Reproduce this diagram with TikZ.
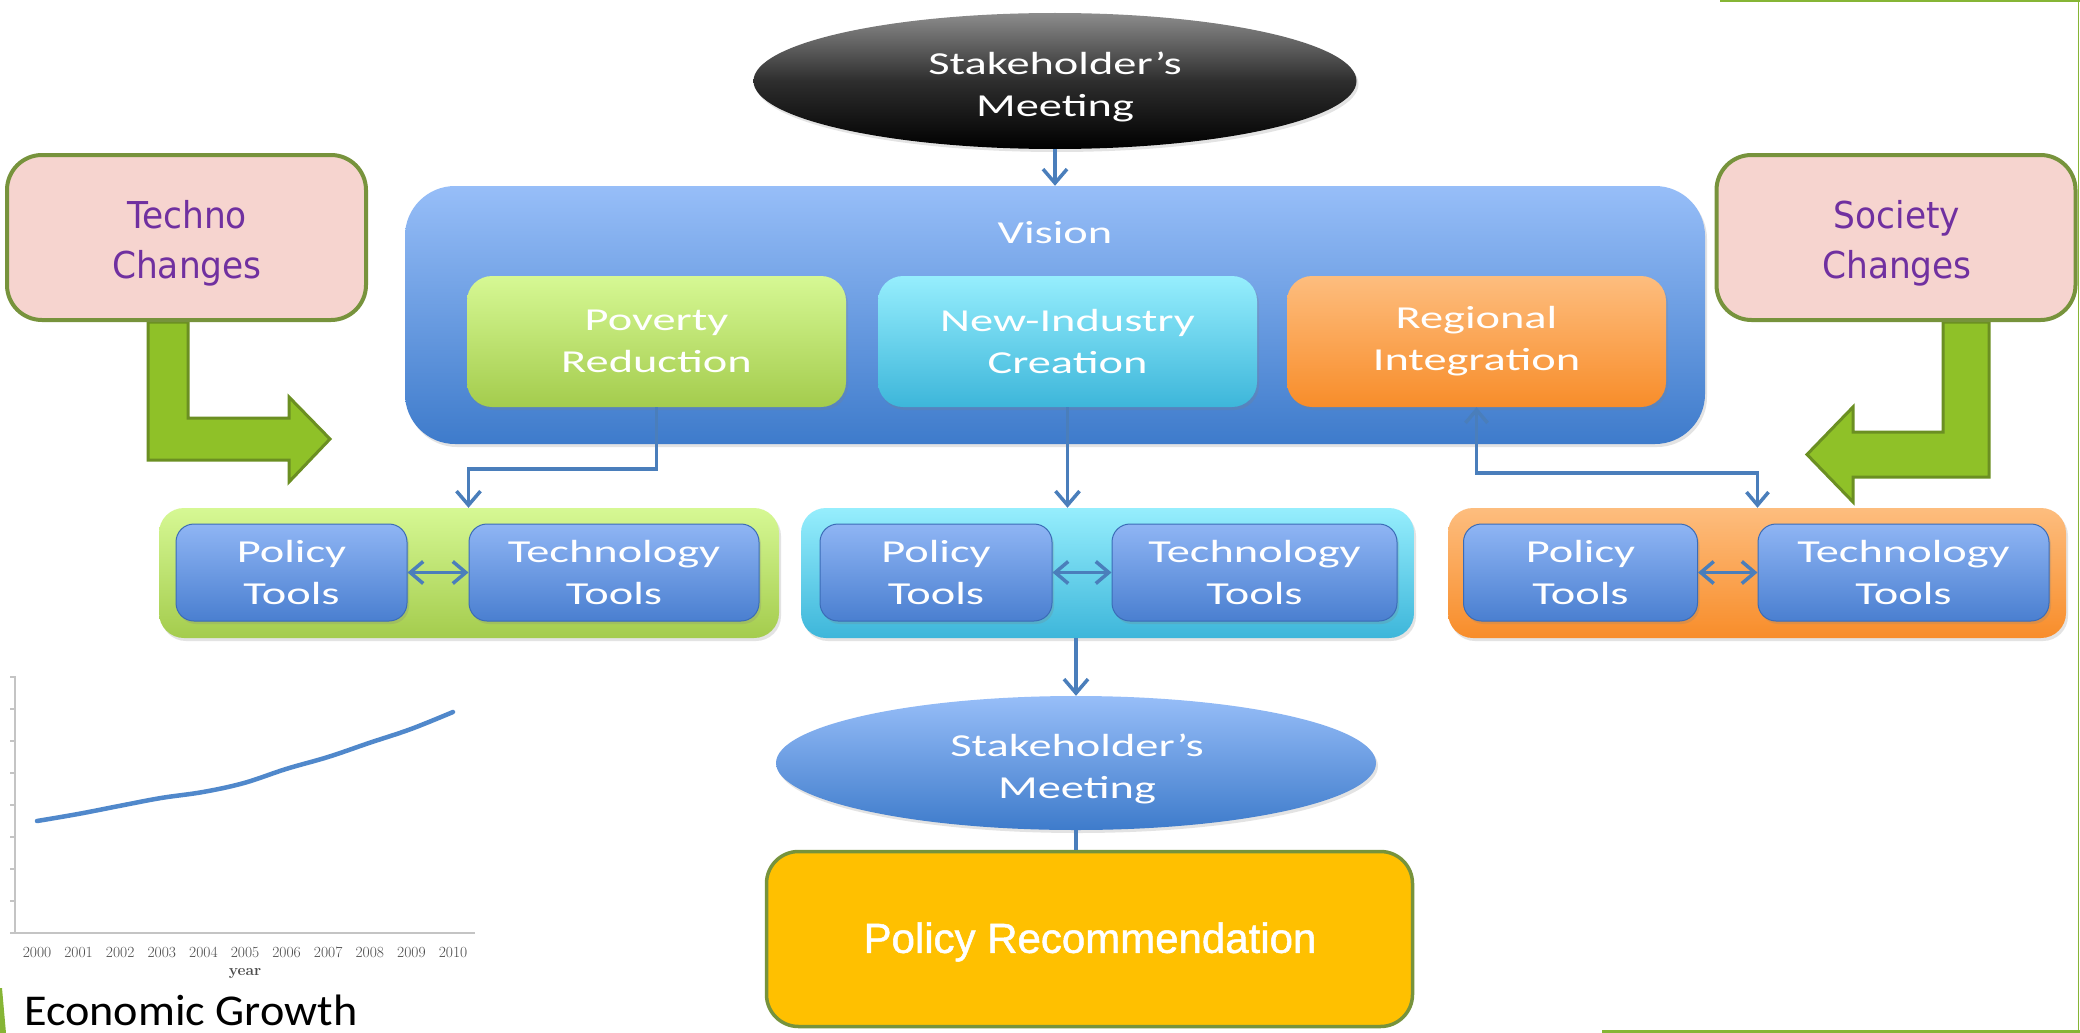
\documentclass[tikz,border=0pt]{standalone}
\usepackage{fontspec}
\usetikzlibrary{shapes.geometric,arrows.meta,shadows,calc}
\newfontfamily\diagfont[FakeStretch=1.45]{Carlito}
\newfontfamily\pinkfont[FakeStretch=0.93]{DejaVu Sans}
\newfontfamily\recfont[FakeBold=1.2]{Liberation Sans}
\newfontfamily\ecofont[FakeStretch=1.05]{Carlito}
\definecolor{blueTop}{HTML}{97BEF8}
\definecolor{blueBot}{HTML}{3E7BCB}
\definecolor{toolTop}{HTML}{8FB5F4}
\definecolor{toolBot}{HTML}{4A7FD0}
\definecolor{toolBorder}{HTML}{3B6CB7}
\definecolor{grnTop}{HTML}{D6F894}
\definecolor{grnBot}{HTML}{A4CC4D}
\definecolor{cyaTop}{HTML}{96EEFD}
\definecolor{cyaBot}{HTML}{3DB6DA}
\definecolor{orgTop}{HTML}{FDBD7E}
\definecolor{orgBot}{HTML}{F88D2A}
\definecolor{connC}{HTML}{4A7EBB}
\definecolor{olive}{HTML}{77933C}
\definecolor{pinkFill}{HTML}{F6D4CF}
\definecolor{purp}{HTML}{7030A0}
\definecolor{arrowGreen}{HTML}{8FC128}
\definecolor{arrowEdge}{HTML}{6B8F22}
\definecolor{recFill}{HTML}{FFC000}
\definecolor{chartBlue}{HTML}{5088CB}
\definecolor{axisGray}{HTML}{C4C4C4}
\definecolor{slideGreen}{HTML}{86B535}
\begin{document}
\begin{tikzpicture}[x=1pt,y=-1pt,
  shadowed/.style={drop shadow={shadow xshift=2pt,shadow yshift=-3pt,opacity=0.22}},
  diagtxt/.style={text=white,font={\diagfont\fontsize{32}{42}\selectfont},align=center},
  toolbox/.style={shadowed,rounded corners=18pt,top color=toolTop,bottom color=toolBot,draw=toolBorder,line width=1pt,minimum height=97pt,inner sep=0pt,diagtxt},
  container/.style={shadowed,rounded corners=25pt,minimum height=130pt,inner sep=0pt},
  subbox/.style={shadowed,rounded corners=25pt,minimum width=379pt,minimum height=131pt,inner sep=0pt,diagtxt},
  conn/.style={draw=connC,line width=3.5pt},
  arr/.style={conn,-{Straight Barb[length=14pt,width=24pt,line width=3.5pt]}},
  dbl/.style={conn,{Straight Barb[length=13pt,width=22pt,line width=3.5pt]}-{Straight Barb[length=13pt,width=22pt,line width=3.5pt]}},
  pinkbox/.style={rounded corners=35pt,draw=olive,line width=4pt,fill=pinkFill,minimum width=359pt,minimum height=165pt,inner sep=0pt},
  pinktxt/.style={text=purp,font={\pinkfont\fontsize{37}{50}\selectfont},align=center},
  garrow/.style={fill=arrowGreen,draw=arrowEdge,line width=3pt,line join=miter},
  axisline/.style={draw=axisGray,line width=1.5pt},
  yearlbl/.style={text=black!70,font={\fontsize{15.5}{18}\selectfont},inner sep=0pt},
  slideline/.style={draw=slideGreen,line width=3pt}
]
\useasboundingbox (0,0) rectangle (2080,1033);
\fill[white] (0,0) rectangle (2080,1033);

% slide decoration
\draw[slideline] (1720,1) -- (2080,1);
\draw[slideline] (1602,1031.5) -- (2080,1031.5);
\draw[draw=slideGreen,line width=1.5pt] (2078.5,0) -- (2078.5,1033);
\fill[slideGreen] (0,988) -- (2,988) -- (6,1033) -- (0,1033) -- cycle;

% green block arrows
\draw[garrow] (148,322) -- (148,460) -- (289,460) -- (289,482) -- (330,439) -- (289,397) -- (289,418) -- (188,418) -- (188,322) -- cycle;
\draw[garrow] (1989,322) -- (1989,477) -- (1853,477) -- (1853,502) -- (1807,454.5) -- (1853,407) -- (1853,432) -- (1943,432) -- (1943,322) -- cycle;

% pink boxes
\node[pinkbox] (techno) at (186.5,237.5) {};
\node[pinktxt] (technotxt) at (187,243) {Techno\\Changes};
\node[pinkbox] (society) at (1896,237.5) {};
\node[pinktxt] (societytxt) at (1897,243) {Society\\Changes};

% top ellipse
\node[shadowed,ellipse,minimum width=603pt,minimum height=136pt,inner sep=0pt,
      top color=black!45,bottom color=black,middle color=black!82] (ell1) at (1055,81) {};
\node[diagtxt,inner sep=0pt] (ell1txt) at (1055,87) {Stakeholder’s\\Meeting};

% vision
\node[shadowed,rounded corners=50pt,minimum width=1300pt,minimum height=258pt,inner sep=0pt,
      top color=blueTop,bottom color=blueBot] (vision) at (1055,315) {};
\node[diagtxt,inner sep=0pt] (visionlbl) at (1055,233) {Vision};
\node[subbox,top color=grnTop,bottom color=grnBot] (pov) at (656.5,341.5) {Poverty\\Reduction};
\node[subbox,top color=cyaTop,bottom color=cyaBot] (nic) at (1067.5,341.5) {New-Industry\\Creation};
\node[subbox,top color=orgTop,bottom color=orgBot] (reg) at (1476.5,341.5) {Regional\\Integration};

% containers
\node[container,minimum width=620pt,top color=grnTop,bottom color=grnBot] (gcont) at (469,573) {};
\node[container,minimum width=613pt,top color=cyaTop,bottom color=cyaBot] (ccont) at (1107.5,573) {};
\node[container,minimum width=618pt,top color=orgTop,bottom color=orgBot] (ocont) at (1757,573) {};

% tools
\node[toolbox,minimum width=231pt] (gpol) at (291.5,572.5) {Policy\\Tools};
\node[toolbox,minimum width=290pt] (gtech) at (614,572.5) {Technology\\Tools};
\node[toolbox,minimum width=232pt] (cpol) at (936,572.5) {Policy\\Tools};
\node[toolbox,minimum width=285pt] (ctech) at (1254.5,572.5) {Technology\\Tools};
\node[toolbox,minimum width=234pt] (opol) at (1580.5,572.5) {Policy\\Tools};
\node[toolbox,minimum width=291pt] (otech) at (1903.5,572.5) {Technology\\Tools};

% bottom ellipse
\node[shadowed,ellipse,minimum width=600pt,minimum height=134pt,inner sep=0pt,
      top color=blueTop,bottom color=blueBot] (ell2) at (1076,763) {};
\node[diagtxt,inner sep=0pt] (ell2txt) at (1077,769) {Stakeholder’s\\Meeting};

% policy recommendation
\node[rounded corners=32pt,draw=olive,line width=3.5pt,fill=recFill,minimum width=646pt,minimum height=175pt,inner sep=0pt] (prec) at (1089.5,939) {};
\node[text=white,font={\recfont\fontsize{42}{50}\selectfont},inner sep=0pt] (prectxt) at (1090,942) {Policy Recommendation};

% connectors
\draw[arr] (ell1.south) -- (vision.north);
\draw[arr] (pov.south) -- ++(0,62) -| (gtech.west |- gcont.north);
\draw[arr] (nic.south) -- (nic.south |- ccont.north);
\draw[dbl] (reg.south) -- ++(0,66) -| (otech.west |- ocont.north);
\draw[dbl] (gpol.east) -- (gtech.west);
\draw[dbl] (cpol.east) -- (ctech.west);
\draw[dbl] (opol.east) -- (otech.west);
\draw[arr] (ell2.north |- ccont.south) -- (ell2.north);
\draw[conn] (ell2.south) -- (ell2.south |- prec.north);

% chart
\draw[axisline] (15,676) -- (15,933);
\draw[axisline] (10,933) -- (475,933);
\foreach \k in {0,...,7} \draw[axisline] (10,{677+32*\k}) -- (15,{677+32*\k});
\foreach \i in {0,...,10} \node[yearlbl] (yr\i) at ({37+41.6*\i},952) {\the\numexpr2000+\i\relax};
\node[yearlbl,font={\fontsize{15.5}{18}\selectfont\bfseries}] (yearlbl) at (245,974) {year};
\draw[draw=chartBlue,line width=4.5pt,line cap=round] plot[smooth,tension=0.6] coordinates {(37,821) (78,814) (119,806) (161,798) (203,792) (244,783) (286,769) (328,757) (369,743) (411,729) (453,712)};
\node[anchor=base west,inner sep=0pt,font={\ecofont\fontsize{44}{50}\selectfont}] (eco) at (24,1025) {Economic Growth};
\end{tikzpicture}
\end{document}
